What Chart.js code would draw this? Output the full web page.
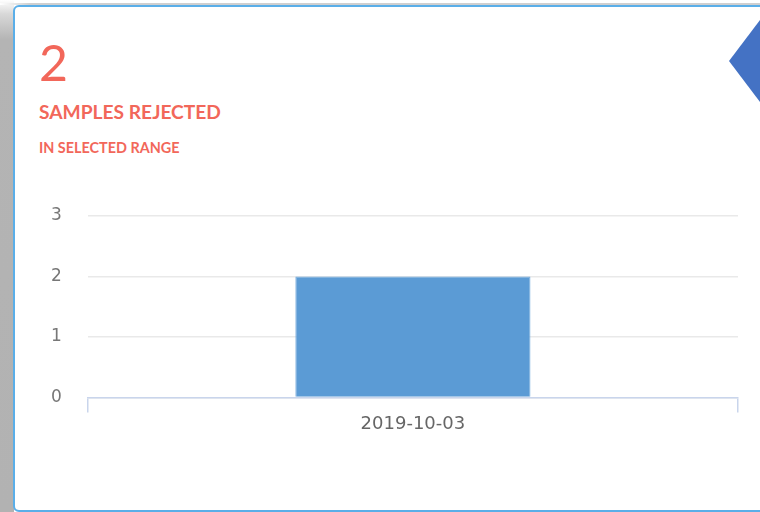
<!DOCTYPE html>
<html>
<head>
<meta charset="utf-8">
<script src="https://cdn.jsdelivr.net/npm/chart.js@4.4.0/dist/chart.umd.min.js"></script>
<style>
  html, body { margin: 0; padding: 0; width: 760px; height: 512px; overflow: hidden; background: #ffffff; }
  #strip { position: absolute; left: 0; top: 0; width: 14px; height: 512px;
    background: linear-gradient(to bottom, #ffffff 0px, #d8d8d8 14px, #b4b4b4 40px, #b2b2b2 100%); }
  #topline { position: absolute; left: 0; top: 3px; width: 760px; height: 2px; background: linear-gradient(to right, #ffffff 0px, #cfcfcf 30px, #cfcfcf 100%); }
  #card { position: absolute; left: 13px; top: 5px; width: 780px; height: 503px;
    border: 2px solid #5aaee8; border-radius: 6px; background: #ffffff; box-sizing: content-box; }
  .t { position: absolute; left: 39px; color: #f2675a; font-family: Lato, "Open Sans", sans-serif; white-space: nowrap; }
  #big { top: 37px; font-size: 50px; font-weight: 400; line-height: 1; }
  #sub1 { top: 102px; font-size: 19.2px; font-weight: 700; line-height: 1; }
  #sub2 { top: 141px; font-size: 14.4px; font-weight: 700; line-height: 1; }
  #cv { position: absolute; left: 0; top: 0; }
  #diamond { position: absolute; left: 729px; top: 20px; width: 0; height: 0;
    border-top: 41px solid transparent; border-bottom: 41px solid transparent; border-right: 31px solid #4472c4; }
</style>
</head>
<body>
<div id="strip"></div>
<div id="topline"></div>
<div id="card"></div>
<div class="t" id="big">2</div>
<div class="t" id="sub1">SAMPLES REJECTED</div>
<div class="t" id="sub2">IN SELECTED RANGE</div>
<canvas id="cv" width="760" height="512"></canvas>
<div id="diamond"></div>
<script>
const categories = ["2019-10-03"];
const rejected = [2];
const yTicks = [0, 1, 2, 3];

const ctx = document.getElementById('cv');
new Chart(ctx, {
  type: 'bar',
  data: {
    labels: categories,
    datasets: [{
      label: 'Samples rejected',
      data: rejected,
      backgroundColor: '#5b9bd5',
      borderColor: '#6fa8db',
      borderWidth: 1,
      categoryPercentage: 0.8,
      barPercentage: 0.452
    }]
  },
  options: {
    responsive: false,
    animation: false,
    devicePixelRatio: 1,
    layout: { padding: { left: 25, right: 22, top: 216, bottom: 76 } },
    plugins: { legend: { display: false }, tooltip: { enabled: false } },
    scales: {
      x: {
        offset: true,
        grid: { display: true, drawOnChartArea: false, drawTicks: true, tickLength: 15, color: '#c9d5ec', lineWidth: 1.5, offset: true },
        border: { display: true, color: '#c9d5ec', width: 1.5 },
        ticks: { color: '#666666', font: { family: 'DejaVu Sans', size: 18 }, padding: 1 }
      },
      y: {
        min: yTicks[0],
        max: yTicks[yTicks.length - 1],
        afterBuildTicks: (axis) => { axis.ticks = yTicks.map(v => ({ value: v })); },
        grid: { color: '#e9e9e9', lineWidth: 1.5, drawTicks: false },
        border: { display: false },
        ticks: { color: '#777777', font: { family: 'DejaVu Sans', size: 17 }, padding: 26 }
      }
    }
  }
});
</script>
</body>
</html>
